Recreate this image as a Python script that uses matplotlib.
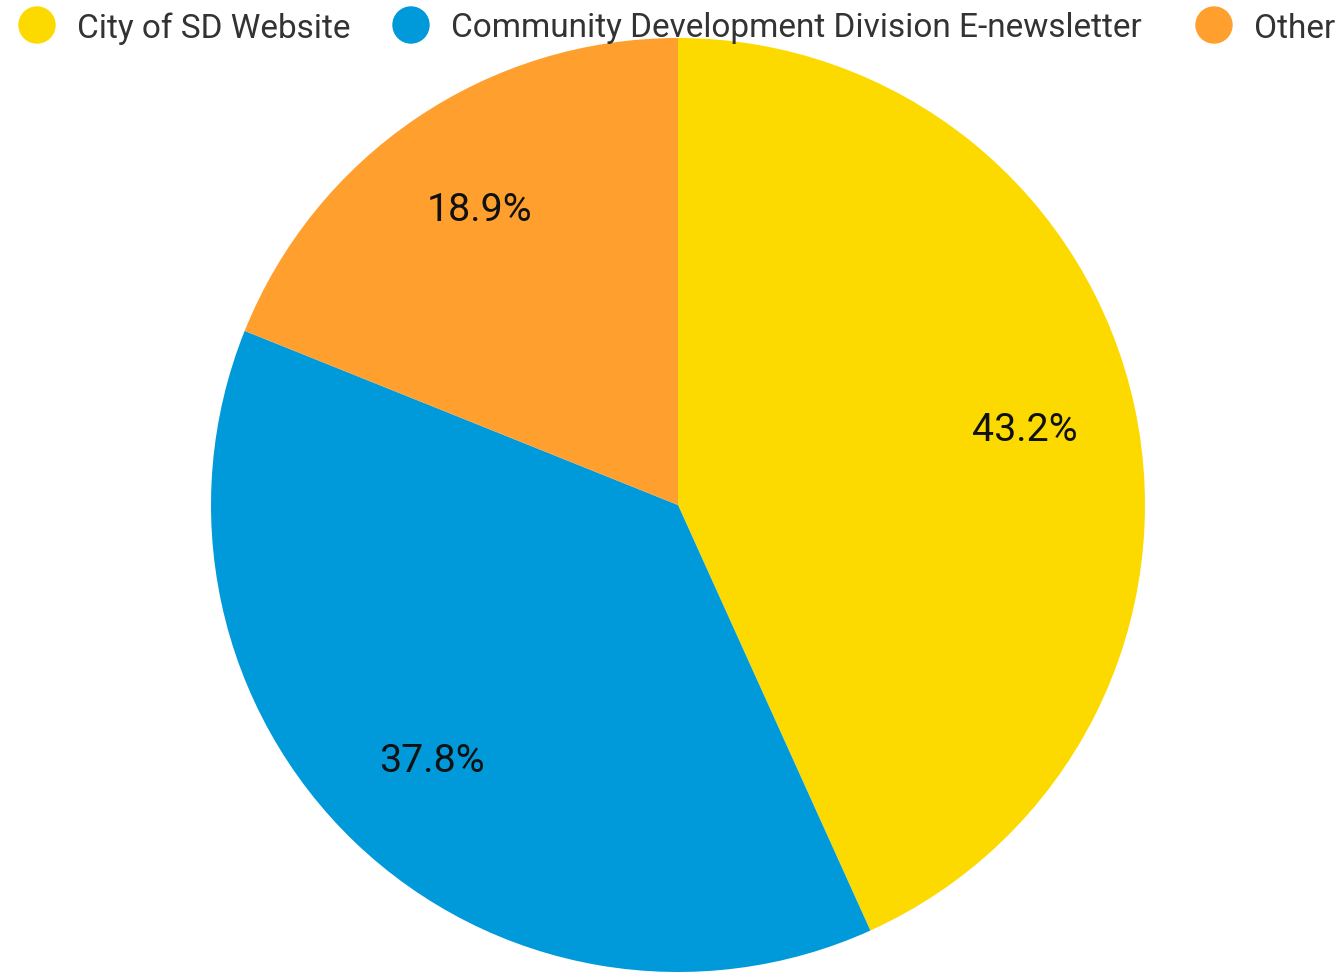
import matplotlib
matplotlib.use("Agg")
import matplotlib.pyplot as plt
from matplotlib.patches import Ellipse

categories = ["City of SD Website", "Community Development Division E-newsletter", "Other"]
values = [43.2, 37.8, 18.9]
colors = ["#FCDA00", "#0099DA", "#FF9F2E"]

W, H = 1344, 972
fig = plt.figure(figsize=(W / 100, H / 100), dpi=100)
plt.rcParams['font.family'] = ['Roboto', 'DejaVu Sans']

cx, cy, R = 678, 505, 467
ax = fig.add_axes([(cx - R) / W, (H - cy - R) / H, 2 * R / W, 2 * R / H])
wedges, texts, autotexts = ax.pie(
    values, colors=colors, startangle=90, counterclock=False,
    autopct='%.1f%%', pctdistance=0.76, radius=1,
    wedgeprops=dict(linewidth=0),
    textprops=dict(fontsize=28.4, color='#111111'))
ax.set_xlim(-1, 1)
ax.set_ylim(-1, 1)
ax.set_aspect('equal')
ax.axis('off')

# Legend drawn manually across the top
marker_x = [37, 411, 1214]
ly = H - 25
for cat, col, x in zip(categories, colors, marker_x):
    fig.patches.append(Ellipse((x / W, ly / H), 36 / W, 36 / H,
                               transform=fig.transFigure, color=col, figure=fig))
    fig.text((x + 40) / W, ly / H, cat, fontsize=24, color='#333333',
             ha='left', va='center_baseline')

fig.savefig("out.png", dpi=100)
